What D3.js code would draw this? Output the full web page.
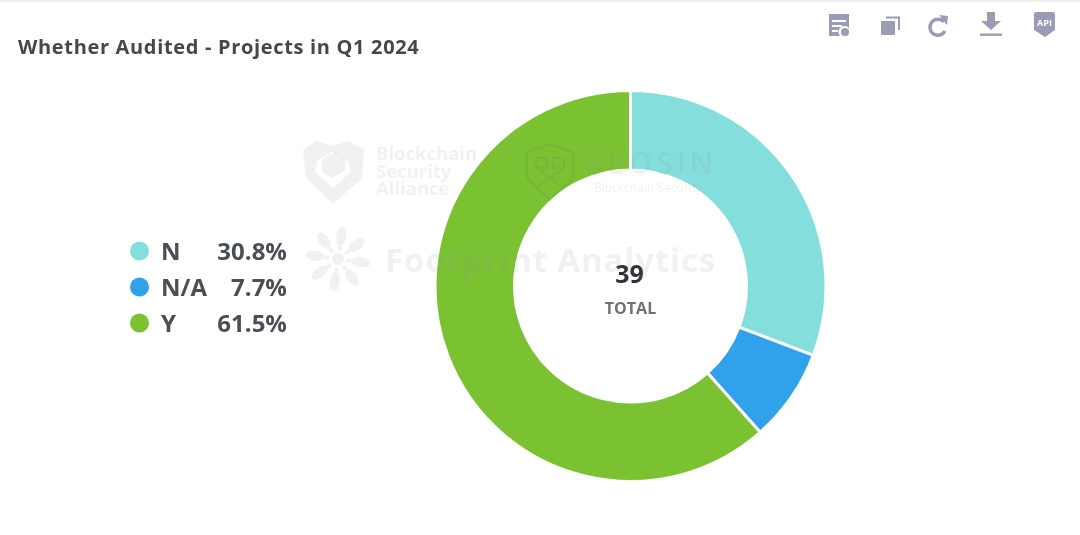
<!DOCTYPE html>
<html><head><meta charset="utf-8">
<script src="https://cdn.jsdelivr.net/npm/d3@7"></script>
<style>html,body{margin:0;padding:0;background:#fff}svg{display:block;filter:blur(0.4px)}text{font-family:"Open Sans",sans-serif}</style>
</head><body><svg id="c" width="1080" height="535"></svg>
<script>
const categories=["N","N/A","Y"];
const values=[12,3,24];
const percentLabels=["30.8%","7.7%","61.5%"];
const colors=["#84DFDC","#2FA2EB","#7AC231"];
const title="Whether Audited - Projects in Q1 2024";
const totalValue=39;
const totalLabel="TOTAL";

const svg=d3.select("#c");
svg.append("rect").attr("width",1080).attr("height",1.5).attr("fill","#eeeeee");
svg.append("text").attr("x",18).attr("y",54).text(title)
  .attr("font-size",20).attr("font-weight",700).attr("fill","#44484c").attr("letter-spacing",0.67);

// donut
const cx=630.5,cy=286;
const pie=d3.pie().sort(null).value(d=>d);
const arc=d3.arc().innerRadius(116).outerRadius(195.5);
const g=svg.append("g").attr("transform",`translate(${cx},${cy})`);
g.selectAll("path").data(pie(values)).join("path")
  .attr("d",arc).attr("fill",(d,i)=>colors[i]).attr("stroke","#fff").attr("stroke-width",3);

// legend
const rowY=d3.scalePoint().domain(categories).range([251,323]);
const lg=svg.append("g").selectAll("g").data(categories).join("g")
  .attr("transform",d=>`translate(0,${rowY(d)})`);
lg.append("circle").attr("cx",139.5).attr("r",9.5).attr("fill",(d,i)=>colors[i]);
lg.append("text").attr("x",161).attr("y",9).text(d=>d)
  .attr("font-size",24).attr("font-weight",700).attr("fill","#4a4f55");
lg.append("text").attr("x",287).attr("y",9).attr("text-anchor","end").text((d,i)=>percentLabels[i])
  .attr("font-size",24).attr("font-weight",700).attr("fill","#4a4f55");

// watermark
const wm=svg.append("g").attr("fill","#8a8f94").attr("fill-opacity",0.13);
wm.append("path").attr("fill-rule","evenodd")
  .attr("d","M303 150 L316 141 L333 146 L349 141 L364 150 L362 178 L333 204 L306 178 Z M318 160 L315 172 L333 188 L351 172 L348 160 L333 152 Z");
wm.append("path").attr("d","M322 160 L335 152 L345 158 L345 170 L333 178 L322 172 Z");
["Blockchain","Security","Alliance"].forEach((t,i)=>wm.append("text").attr("x",376).attr("y",160+i*17.5).text(t)
  .attr("font-size",18.5).attr("font-weight",700));
wm.append("path").attr("fill","none").attr("stroke","#70757a").attr("stroke-opacity",0.16).attr("stroke-width",2)
  .attr("d","M527 152 L550 144 L573 152 L573 178 L550 200 L527 178 Z M536 158 H547 V168 H536 Z M553 158 H564 V168 H553 Z M538 186 L562 170 M540 170 L560 186");
wm.append("text").attr("x",584).attr("y",174).text("BEOSIN").attr("font-size",30).attr("font-weight",600).attr("letter-spacing",4);
wm.append("text").attr("x",594).attr("y",192).text("Blockchain Security").attr("font-size",12);
// footprint sun
const petals=d3.range(8);
const sun=wm.append("g").attr("transform","translate(338,259)");
sun.selectAll("ellipse.o").data(petals).join("ellipse").attr("class","o")
  .attr("cy",-23).attr("rx",5).attr("ry",9.5).attr("transform",d=>`rotate(${d*45+8})`);
sun.selectAll("ellipse.i").data(petals).join("ellipse").attr("class","i")
  .attr("cy",-11).attr("rx",2).attr("ry",2.6).attr("transform",d=>`rotate(${d*45+8})`);
sun.append("circle").attr("r",6);
wm.append("text").attr("x",385).attr("y",272).text("Footprint Analytics").attr("font-size",33).attr("font-weight",700).attr("letter-spacing",.85);

// centre labels
g.append("text").attr("text-anchor","middle").attr("x",-1).attr("y",-3).text(totalValue)
  .attr("font-size",25).attr("font-weight",700).attr("fill","#2e3338");
g.append("text").attr("text-anchor","middle").attr("y",28).text(totalLabel)
  .attr("font-size",16).attr("font-weight",700).attr("fill","#6d7278");

// toolbar icons
const ic=svg.append("g").attr("fill","#9a9cb5");
ic.append("path").attr("fill-rule","evenodd").attr("d","M829 14 H849 V28 A6 6 0 0 0 840 36 H829 Z M832 20 H846 V22 H832 Z M832 25 H842 V27 H832 Z M832 30 H838 V32 H832 Z");
ic.append("circle").attr("cx",845).attr("cy",32).attr("r",4);
ic.append("rect").attr("x",881).attr("y",21).attr("width",14).attr("height",14).attr("rx",1);
ic.append("path").attr("fill","none").attr("stroke","#9a9cb5").attr("stroke-width",2).attr("d","M886 17.5 H899 V30");
ic.append("path").attr("fill","none").attr("stroke","#9a9cb5").attr("stroke-width",3.4).attr("d","M944 22 A8 8 0 1 0 945 31");
ic.append("path").attr("d","M939 15 L948 16 L947 25 Z");
ic.append("path").attr("d","M987 12 H995 V21 H1001 L991 30 L981 21 H987 Z");
ic.append("rect").attr("x",980).attr("y",33.5).attr("width",22).attr("height",2.4);
ic.append("path").attr("d","M1034 14 Q1034 12 1036 12 H1053 Q1055 12 1055 14 V30 L1045 37 L1034 30 Z");
svg.append("text").attr("x",1044.5).attr("y",26).attr("text-anchor","middle").text("API")
  .attr("font-size",9).attr("font-weight",700).attr("fill","#fff");
</script></body></html>
